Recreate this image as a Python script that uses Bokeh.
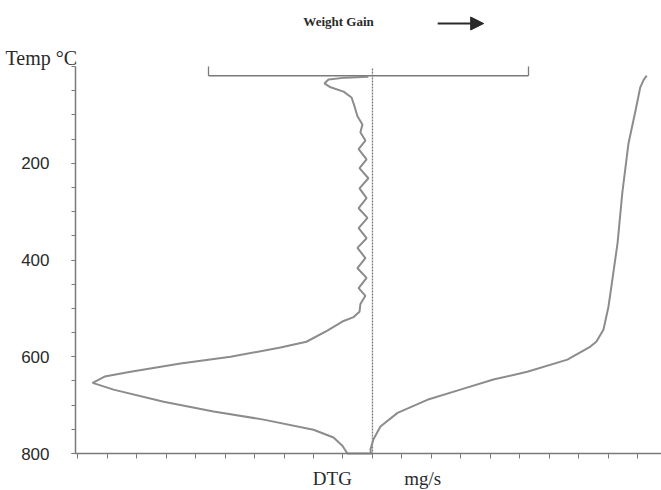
from bokeh.plotting import figure
from bokeh.models import Range1d, FixedTicker, Label, Arrow, NormalHead, LinearAxis
from bokeh.embed import file_html
from bokeh.resources import INLINE

# DTG curve (temperature in °C, DTG signal in chart units; negative = weight loss)
dtg_temp = [21, 23, 27, 35, 43, 52, 64, 82, 103, 120,
            136, 153, 171, 192, 210, 231, 252, 272, 293, 313,
            334, 355, 375, 396, 417, 437, 458, 474, 491, 507,
            518, 526, 546, 569, 581, 600, 614, 631, 641, 654,
            668, 693, 713, 730, 751, 767, 784, 800, 800]
dtg_val = [-0.14, -0.92, -1.49, -1.63, -1.42, -0.98, -0.71, -0.61, -0.51, -0.34,
           -0.41, -0.24, -0.47, -0.20, -0.44, -0.14, -0.44, -0.20, -0.47, -0.17,
           -0.47, -0.20, -0.51, -0.24, -0.51, -0.20, -0.47, -0.24, -0.41, -0.44,
           -0.64, -0.98, -1.53, -2.24, -3.12, -4.81, -6.51, -8.20, -9.08, -9.49,
           -8.78, -7.08, -5.39, -3.69, -2.00, -1.32, -1.02, -0.85, 0.0]

# TG (weight) curve, same chart units
tg_temp = [19, 27, 43, 91, 159, 262, 365, 468, 497, 544, 569, 579, 606, 631,
           647, 668, 689, 716, 744, 771, 792, 800]
tg_val = [9.30, 9.20, 9.08, 8.92, 8.68, 8.47, 8.31, 8.07, 8.00, 7.83, 7.59, 7.39,
          6.61, 5.25, 4.10, 2.98, 1.86, 0.85, 0.27, 0.03, -0.07, -0.05]

# top reference bracket
bracket_x = [-5.56, 5.29]
bracket_temp = 19
temp_ticks = [200, 400, 600, 800]
temp_minor = list(range(0, 801, 50))
dtg_minor = list(range(-10, 10))
T_MIN, T_MAX = 0, 800

curve_col = "#8c8c8c"
axis_col = "#7a7a7a"
text_col = "#2a2a2a"

# axis extent in DTG units
X0, X1 = -10.07, 9.80
PPU = 586 / (X1 - X0)            # pixels per DTG unit
TPP = 800 / 387                  # °C per pixel

p = figure(width=661, height=490, output_backend="svg", toolbar_location=None,
           x_range=Range1d(X0 - 75 / PPU, X1),
           y_range=Range1d(T_MAX + 37 * TPP, -66 * TPP),
           x_axis_type=None, y_axis_type=None,
           min_border=0, min_border_left=0, min_border_right=0,
           min_border_top=0, min_border_bottom=0)
p.grid.visible = False
p.outline_line_color = None

# bottom axis (placed at 800 °C)
xa = LinearAxis(fixed_location=T_MAX, bounds=(X0, X1),
                ticker=FixedTicker(ticks=[], minor_ticks=dtg_minor))
xa.major_tick_out = 5
xa.major_tick_in = 0
xa.minor_tick_out = 5
xa.minor_tick_in = 0
xa.axis_line_color = axis_col
xa.minor_tick_line_color = axis_col
xa.axis_line_width = 1.5
p.add_layout(xa, "below")

# left axis (placed at left end of DTG scale)
ya = LinearAxis(fixed_location=X0, bounds=(T_MIN, T_MAX),
                ticker=FixedTicker(ticks=temp_ticks, minor_ticks=temp_minor))
ya.major_label_text_font = "Liberation Sans"
ya.major_label_text_font_size = "17px"
ya.major_label_text_color = text_col
ya.major_label_standoff = 22
ya.major_tick_out = 4
ya.major_tick_in = 0
ya.minor_tick_out = 4
ya.minor_tick_in = 0
ya.axis_line_color = axis_col
ya.major_tick_line_color = axis_col
ya.minor_tick_line_color = axis_col
ya.axis_line_width = 1.5
p.add_layout(ya, "left")

# center reference line and top bracket
p.line([0, 0], [4, T_MAX], line_color=axis_col, line_width=1.3, line_dash="2 1")
p.line(bracket_x, [bracket_temp, bracket_temp], line_color=axis_col, line_width=1.5)
p.segment(x0=bracket_x, y0=[bracket_temp, bracket_temp], x1=bracket_x, y1=[0, 0],
          line_color=axis_col, line_width=1.3)

# curves
p.line(dtg_val, dtg_temp, line_color=curve_col, line_width=2)
p.line(tg_val, tg_temp, line_color=curve_col, line_width=2)

# texts
p.add_layout(Label(x=X0 - 70 / PPU, y=-9 * TPP, text="Temp °C",
                   text_font="Liberation Serif", text_font_size="20px",
                   text_color=text_col, text_baseline="alphabetic"))
p.add_layout(Label(x=-1.15, y=-45 * TPP, text="Weight Gain", text_font="Liberation Serif",
                   text_font_size="13px", text_font_style="bold", text_color=text_col,
                   text_align="center", text_baseline="middle"))
p.add_layout(Arrow(end=NormalHead(size=13, fill_color=text_col, line_color=text_col),
                   x_start=2.21, y_start=-43 * TPP, x_end=3.77, y_end=-43 * TPP,
                   line_width=2, line_color=text_col))
p.add_layout(Label(x=-1.36, y=T_MAX + 25 * TPP, text="DTG", text_font="Liberation Serif",
                   text_font_size="19px", text_color=text_col,
                   text_align="center", text_baseline="middle"))
p.add_layout(Label(x=1.70, y=T_MAX + 25 * TPP, text="mg/s", text_font="Liberation Serif",
                   text_font_size="19px", text_color=text_col,
                   text_align="center", text_baseline="middle"))

open("out.html", "w").write(file_html(p, INLINE))
